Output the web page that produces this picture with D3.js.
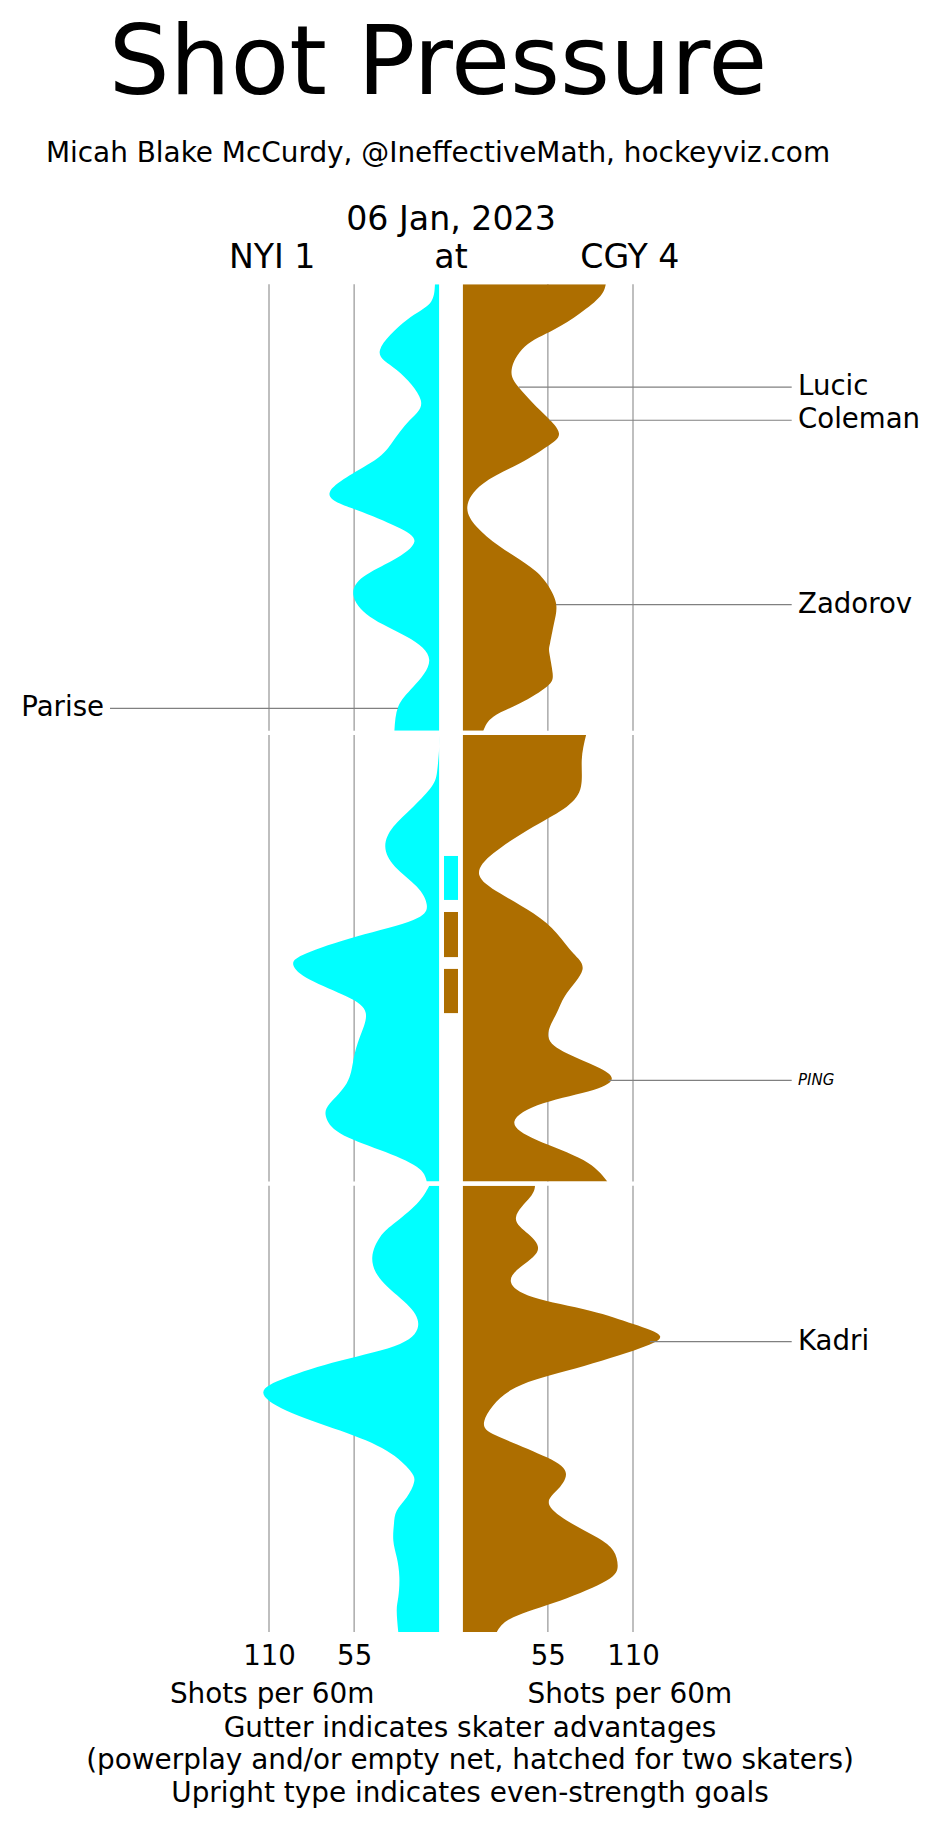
<!DOCTYPE html>
<html>
<head>
<meta charset="utf-8">
<script src="https://cdn.jsdelivr.net/npm/d3@7"></script>
<style>
  body { margin: 0; background: #fff; }
  svg { display: block; font-family: "DejaVu Sans", sans-serif; }
</style>
</head>
<body>
<svg id="chart" width="940" height="1827"></svg>
<script>
// ---------------- DATA ----------------
const homeTeam = "CGY 4";
const awayTeam = "NYI 1";
const gameDate = "06 Jan, 2023";
const tickValues = [55, 110];
const tickLabels = ["55", "110"];
const periods = [0, 1, 2];

// NYI shot pressure [minute, shots per 60]
const nyiPressure = [
  // period 1
  [[0,2.8],[0.85,6],[1.6,21],[2.94,38.3],[3.84,27.5],[5.18,12],[6.08,19],[7.12,30.8],[8.02,44.8],[9.29,70.6],[10.11,53.4],[10.86,27.5],[11.53,16.1],[12.35,29.7],[13.1,49],[13.92,55.5],[14.89,44.8],[15.79,21],[16.83,6.5],[18.03,16.8],[18.92,26.5],[20,29]],
  // period 2
  [[20,0],[20.52,0],[21.57,1.3],[22.31,4.9],[23.21,16.8],[24.11,29.7],[25.0,34.9],[25.9,28.6],[26.79,14.6],[27.61,8.1],[28.29,16.8],[29.03,53.4],[29.78,85.7],[30.3,94.3],[30.97,83.5],[31.72,59.8],[32.46,47.5],[33.51,51.2],[34.56,55.5],[35.6,59.8],[36.5,70.6],[37.1,73.2],[37.84,64.1],[38.59,38.3],[39.34,14.6],[40,8.1]],
  // period 3
  [[40,6.5],[40.82,14.6],[41.72,29.7],[42.31,38.3],[43.21,43.3],[44.26,37.2],[45.3,21],[46.2,13.6],[47.09,25.4],[47.84,64.1],[48.59,98.6],[49.26,113.7],[50.08,98.6],[50.97,64.1],[51.87,34],[52.76,18.9],[53.29,16.3],[53.96,21],[54.56,27.5],[55.16,29.3],[55.9,29.7],[56.65,27.5],[57.54,25.8],[58.44,26.5],[59.03,27.5],[60,26.5]]
];

// CGY shot pressure [minute, shots per 60]
const cgyPressure = [
  [[0,92.4],[0.55,88.7],[1.3,75.8],[2.05,58.5],[2.79,40.2],[3.84,31.6],[4.59,35.9],[5.34,45.6],[5.93,54.3],[6.68,62.2],[7.28,54.3],[8.02,37],[8.92,13.3],[9.96,3],[10.86,9],[11.75,24],[12.65,43.5],[13.4,54.3],[14.29,60.3],[15.19,59],[16.09,56.4],[16.53,56],[17.43,58.1],[18.03,54.3],[18.77,37],[19.37,19.8],[20,13.3]],
  [[20,79.7],[21.12,76.9],[22.31,76.4],[23.21,67.2],[24.11,45.6],[25.3,19.8],[26.27,10.7],[27.09,24.1],[27.99,45.6],[28.88,60.7],[29.78,71.4],[30.53,77.3],[31.57,67.2],[32.46,60.7],[33.51,55.3],[34.26,67.2],[34.86,86.6],[35.38,96.3],[35.9,84.4],[36.5,52],[37.32,33.4],[38.14,47.8],[39.04,77.9],[40,93.4]],
  [[40,46.7],[40.52,43.5],[41.42,34.4],[42.16,42.4],[42.91,48.4],[43.66,37],[44.33,31.2],[45.0,45.6],[45.6,82.2],[46.2,110.2],[46.75,127.5],[47.39,110.2],[48.29,67.2],[49.18,30.6],[50.53,14],[51.27,24.1],[52.17,54.3],[52.91,66.7],[53.66,60.7],[54.26,55.7],[55.0,67.2],[55.75,86.6],[56.35,97.3],[57.02,100.1],[57.69,93],[58.59,62.9],[59.33,32.7],[60,22]]
];

// Skater advantages (gutter): [start minute, end minute, team]
const advantages = [
  [25.42, 27.39, "NYI"],
  [27.93, 29.95, "CGY"],
  [30.48, 32.46, "CGY"]
];

// Goals: [minute, team, scorer, even strength?]
const goals = [
  [4.61, "CGY", "Lucic", true],
  [6.09, "CGY", "Coleman", true],
  [14.35, "CGY", "Zadorov", true],
  [19.0, "NYI", "Parise", true],
  [35.47, "CGY", "PING", false],
  [46.99, "CGY", "Kadri", true]
];

const footnotes = [
  "Gutter indicates skater advantages",
  "(powerplay and/or empty net, hatched for two skaters)",
  "Upright type indicates even-strength goals"
];

// ---------------- LAYOUT ----------------
const colors = { NYI: "#00ffff", CGY: "#ad6e00" };
const chartTop = 284.3, periodH = 446.4, periodGap = 4.3;
const leftZero = 439.3, rightZero = 462.7;
const pxPerUnit = 170.3 / 110;
const centerX = (leftZero + rightZero) / 2;

const xLeft = d3.scaleLinear().domain([0, 110]).range([leftZero, leftZero - 110 * pxPerUnit]);
const xRight = d3.scaleLinear().domain([0, 110]).range([rightZero, rightZero + 110 * pxPerUnit]);

const periodScale = p => d3.scaleLinear()
  .domain([p * 20, p * 20 + 20])
  .range([chartTop + p * (periodH + periodGap), chartTop + p * (periodH + periodGap) + periodH]);
const pScales = periods.map(periodScale);
const yOf = t => {
  const p = Math.min(2, Math.floor(t / 20));
  return pScales[p](t);
};

const svg = d3.select("#chart");

// Gridlines per period
const gridG = svg.append("g");
periods.forEach(p => {
  const [y0, y1] = pScales[p].range();
  tickValues.forEach(v => {
    [xLeft(v), xRight(v)].forEach(x => {
      gridG.append("line").attr("x1", x).attr("x2", x).attr("y1", y0).attr("y2", y1)
        .attr("stroke", "#aaaaaa").attr("stroke-width", 1.5);
    });
  });
});

// Areas (clipped to the zero line so the spline never crosses the gutter)
const curve = d3.curveNatural;
const defs = svg.append("defs");
periods.forEach(p => {
  const ys = pScales[p];
  const [y0, y1] = ys.range();
  defs.append("clipPath").attr("id", "clipL" + p).append("rect")
    .attr("x", 0).attr("y", y0).attr("width", leftZero).attr("height", y1 - y0);
  defs.append("clipPath").attr("id", "clipR" + p).append("rect")
    .attr("x", rightZero).attr("y", y0).attr("width", 940 - rightZero).attr("height", y1 - y0);
  const leftArea = d3.area().curve(curve)
    .y(d => ys(d[0])).x0(xLeft(0)).x1(d => xLeft(d[1]));
  const rightArea = d3.area().curve(curve)
    .y(d => ys(d[0])).x0(xRight(0)).x1(d => xRight(d[1]));
  svg.append("path").datum(nyiPressure[p]).attr("d", leftArea).attr("fill", colors.NYI)
    .attr("clip-path", `url(#clipL${p})`);
  svg.append("path").datum(cgyPressure[p]).attr("d", rightArea).attr("fill", colors.CGY)
    .attr("clip-path", `url(#clipR${p})`);
});

// Gutter advantage boxes
svg.append("g").selectAll("rect").data(advantages).join("rect")
  .attr("x", leftZero + 4.7).attr("width", rightZero - leftZero - 9.4)
  .attr("y", d => yOf(d[0])).attr("height", d => yOf(d[1]) - yOf(d[0]))
  .attr("fill", d => colors[d[2]]);

// Goal labels
function valueAt(series, t) {
  const p = Math.min(2, Math.floor(t / 20));
  const s = series[p];
  for (let i = 1; i < s.length; i++) {
    if (t <= s[i][0]) {
      const a = s[i - 1], b = s[i];
      const f = (t - a[0]) / (b[0] - a[0]);
      return a[1] + f * (b[1] - a[1]);
    }
  }
  return s[s.length - 1][1];
}
const labelSize = 27.6;
const goalG = svg.append("g");
goals.forEach(g => {
  const [t, team, name, es] = g;
  const y = yOf(t);
  if (team === "CGY") {
    const x0 = xRight(valueAt(cgyPressure, t));
    goalG.append("line").attr("x1", x0).attr("x2", 791.7).attr("y1", y).attr("y2", y)
      .attr("stroke", "#808080").attr("stroke-width", 1.2);
    goalG.append("text").attr("x", 798).attr("y", y + (es ? 8 : 4.5))
      .attr("font-size", es ? labelSize : 15).attr("font-style", es ? "normal" : "italic")
      .text(name);
  } else {
    const x0 = xLeft(valueAt(nyiPressure, t));
    goalG.append("line").attr("x1", 110).attr("x2", x0).attr("y1", y).attr("y2", y)
      .attr("stroke", "#808080").attr("stroke-width", 1.2);
    goalG.append("text").attr("x", 104).attr("y", y + 8).attr("text-anchor", "end")
      .attr("font-size", es ? labelSize : 15).attr("font-style", es ? "normal" : "italic")
      .text(name);
  }
});

// Titles
svg.append("text").attr("x", 438).attr("y", 94).attr("text-anchor", "middle")
  .attr("font-size", 96).text("Shot Pressure");
svg.append("text").attr("x", 438).attr("y", 162).attr("text-anchor", "middle")
  .attr("font-size", 27.9).text("Micah Blake McCurdy, @IneffectiveMath, hockeyviz.com");
svg.append("text").attr("x", centerX).attr("y", 230).attr("text-anchor", "middle")
  .attr("font-size", 33.2).text(gameDate);
const teamOffset = 178.8;
svg.append("text").attr("x", centerX - teamOffset).attr("y", 268).attr("text-anchor", "middle")
  .attr("font-size", 33.2).text(awayTeam);
svg.append("text").attr("x", centerX).attr("y", 268).attr("text-anchor", "middle")
  .attr("font-size", 33.2).text("at");
svg.append("text").attr("x", centerX + teamOffset).attr("y", 268).attr("text-anchor", "middle")
  .attr("font-size", 33.2).text(homeTeam);

// Bottom axes
const bottomY = pScales[2].range()[1];
const axisLeft = d3.axisBottom(xLeft).tickValues(tickValues).tickFormat((d, i) => tickLabels[i]).tickSize(0).tickPadding(0);
const axisRight = d3.axisBottom(xRight).tickValues(tickValues).tickFormat((d, i) => tickLabels[i]).tickSize(0).tickPadding(0);
[axisLeft, axisRight].forEach(ax => {
  const g = svg.append("g").attr("transform", `translate(0,${bottomY})`).call(ax);
  g.select(".domain").remove();
  g.selectAll("text").attr("font-size", 27.6).attr("font-family", "DejaVu Sans")
    .attr("fill", "#000").attr("dy", 0).attr("y", 33);
});
svg.append("text").attr("x", centerX - teamOffset).attr("y", 1703).attr("text-anchor", "middle")
  .attr("font-size", 27.9).text("Shots per 60m");
svg.append("text").attr("x", centerX + teamOffset).attr("y", 1703).attr("text-anchor", "middle")
  .attr("font-size", 27.9).text("Shots per 60m");
footnotes.forEach((f, i) => {
  svg.append("text").attr("x", 470).attr("y", 1736.5 + i * 32.5).attr("text-anchor", "middle")
    .attr("font-size", 27.9).text(f);
});
</script>
</body>
</html>
